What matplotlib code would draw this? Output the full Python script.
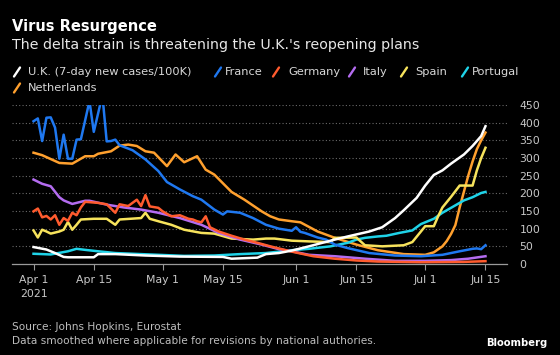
import numpy as np
import pandas as pd
import matplotlib
matplotlib.use("Agg")
import matplotlib.pyplot as plt
from matplotlib.lines import Line2D

# values: day offset from Apr 1 2021, cases per 100K
uk_days = [0, 3, 5, 7, 8, 14, 15, 19, 26, 34, 44, 46, 48, 52, 54, 57, 60, 64, 69, 73, 78, 81, 84, 86, 89, 91, 93, 95, 97, 100, 102, 104, 105]
uk_vals = [48, 41, 31, 20, 19, 19, 28, 28, 24, 21, 20, 15, 16, 18, 28, 31, 38, 50, 66, 78, 92, 104, 130, 152, 187, 222, 252, 265, 284, 310, 334, 362, 390]

fr_days = [0, 1, 2, 3, 4, 5, 6, 7, 8, 9, 10, 11, 13, 14, 16, 17, 18, 19, 20, 23, 26, 29, 31, 34, 37, 39, 42, 44, 45, 48, 51, 54, 57, 60, 61, 62, 63, 66, 68, 70, 73, 78, 84, 90, 95, 99, 102, 103, 104, 105]
fr_vals = [404, 412, 348, 414, 415, 386, 298, 366, 298, 298, 352, 353, 461, 374, 478, 347, 348, 352, 336, 322, 296, 263, 232, 211, 192, 182, 154, 140, 149, 145, 130, 111, 100, 94, 104, 91, 88, 75, 69, 55, 45, 31, 24, 22, 26, 36, 43, 44, 42, 53]

de_days = [0, 1, 2, 3, 4, 5, 6, 7, 8, 9, 10, 11, 12, 15, 17, 19, 20, 22, 24, 25, 26, 27, 29, 30, 32, 34, 36, 37, 38, 39, 40, 41, 43, 46, 49, 52, 55, 60, 65, 70, 75, 80, 90, 100, 105]
de_vals = [149, 157, 132, 136, 126, 138, 111, 130, 122, 145, 138, 160, 176, 173, 169, 145, 169, 164, 182, 164, 195, 163, 159, 149, 135, 138, 128, 126, 121, 118, 135, 104, 92, 80, 69, 60, 50, 35, 22, 15, 10, 7, 5, 6, 8]

it_days = [0, 2, 4, 6, 7, 9, 12, 13, 17, 21, 25, 29, 34, 39, 43, 48, 53, 57, 60, 64, 70, 77, 84, 91, 97, 101, 105]
it_vals = [239, 227, 220, 189, 180, 170, 179, 179, 168, 160, 154, 145, 130, 111, 88, 69, 55, 42, 36, 26, 22, 15, 9, 9, 11, 15, 22]

es_days = [0, 1, 2, 3, 4, 6, 7, 8, 9, 10, 11, 14, 17, 19, 20, 25, 26, 27, 29, 32, 35, 39, 42, 46, 51, 54, 56, 60, 64, 69, 70, 75, 76, 77, 81, 86, 88, 90, 91, 93, 94, 95, 97, 99, 102, 103, 104, 105]
es_vals = [95, 75, 97, 92, 86, 92, 97, 119, 97, 111, 126, 128, 128, 111, 126, 130, 145, 128, 121, 111, 97, 88, 86, 72, 69, 72, 72, 66, 64, 62, 74, 75, 64, 53, 50, 53, 62, 92, 107, 107, 135, 160, 190, 222, 222, 265, 300, 329]

pt_days = [0, 4, 8, 10, 12, 15, 19, 27, 35, 42, 48, 54, 60, 64, 69, 73, 75, 77, 80, 82, 85, 88, 90, 93, 95, 98, 100, 102, 104, 105]
pt_vals = [29, 27, 36, 43, 40, 36, 31, 27, 23, 24, 28, 31, 39, 43, 50, 60, 69, 74, 78, 80, 88, 95, 113, 128, 145, 166, 180, 189, 201, 204]

nl_days = [0, 2, 6, 9, 12, 14, 15, 18, 20, 22, 24, 26, 28, 31, 33, 35, 38, 40, 42, 46, 49, 53, 55, 57, 60, 62, 66, 70, 75, 80, 86, 91, 93, 95, 96, 97, 98, 99, 100, 101, 102, 103, 104, 105]
nl_vals = [315, 308, 286, 284, 305, 305, 312, 319, 335, 338, 334, 319, 315, 277, 310, 288, 305, 267, 253, 204, 182, 149, 135, 126, 121, 118, 92, 74, 55, 39, 28, 26, 33, 50, 65, 85, 110, 160, 205, 250, 290, 325, 350, 372]

names = ["U.K. (7-day new cases/100K)", "France", "Germany", "Italy", "Spain", "Portugal", "Netherlands"]
colors = ["#ffffff", "#1f78f0", "#ff5b2e", "#b46cf0", "#f7e35c", "#1fd3e8", "#ffa02e"]
series = [(uk_days, uk_vals), (fr_days, fr_vals), (de_days, de_vals), (it_days, it_vals),
          (es_days, es_vals), (pt_days, pt_vals), (nl_days, nl_vals)]

start = pd.Timestamp("2021-04-01")
tick_dates = ["2021-04-01", "2021-04-15", "2021-05-01", "2021-05-15",
              "2021-06-01", "2021-06-15", "2021-07-01", "2021-07-15"]
tick_labels = ["Apr 1\n2021", "Apr 15", "May 1", "May 15", "Jun 1", "Jun 15", "Jul 1", "Jul 15"]
y_ticks = [0, 50, 100, 150, 200, 250, 300, 350, 400, 450]

W, H = 560, 355
fig = plt.figure(figsize=(W / 100, H / 100), dpi=100, facecolor="black")
ax = fig.add_axes([12 / W, 1 - 264 / H, 495 / W, 159 / H], facecolor="black")

# reverse order so the U.K. line sits on top
for (d, v), c in reversed(list(zip(series, colors))):
    dates = start + pd.to_timedelta(d, unit="D")
    ax.plot(dates, v, color=c, lw=1.8, solid_joinstyle="round")

ax.set_xlim(start - pd.Timedelta(days=5), pd.Timestamp("2021-07-20"))
ax.set_ylim(0, 450)
ax.set_xticks(pd.to_datetime(tick_dates))
ax.set_xticklabels(tick_labels)
ax.set_yticks(y_ticks)
ax.yaxis.tick_right()
for s in ["top", "left", "right"]:
    ax.spines[s].set_visible(False)
ax.spines["bottom"].set_color("#9a9a9a")
ax.spines["bottom"].set_linewidth(0.9)
ax.tick_params(axis="x", colors="#9a9a9a", labelcolor="#c8c8c8", length=4, width=0.8, pad=4, labelsize=7.8)
ax.tick_params(axis="y", length=0, pad=9, labelcolor="#c8c8c8", labelsize=7.8)
for lab in ax.get_xticklabels():
    lab.set_linespacing(1.5)
ax.grid(axis="y", color="#6a6a6a", linestyle=(0, (1, 2)), lw=0.8)
ax.set_axisbelow(True)

# header
fig.text(12 / W, 1 - 31 / H, "Virus Resurgence", color="white", fontsize=10.5, fontweight="bold", va="baseline")
fig.text(12 / W, 1 - 49 / H, "The delta strain is threatening the U.K.'s reopening plans",
         color="#e8e8e8", fontsize=10.2, va="baseline")

# legend: coloured slash + label
leg_pos = [(14, 28, 72), (215, 225, 72), (273, 288, 72), (349, 363, 72),
           (401, 415, 72), (462, 472, 72), (14, 28, 88)]
for (sx, tx, cy), name, c in zip(leg_pos, names, colors):
    fig.add_artist(Line2D([sx / W, (sx + 6) / W], [1 - (cy + 4.5) / H, 1 - (cy - 4.5) / H],
                          color=c, lw=1.7, transform=fig.transFigure, solid_capstyle="round"))
    fig.text(tx / W, 1 - cy / H, name, color="#d8d8d8", fontsize=8.2, va="center")

# footer
fig.text(12 / W, 1 - 330 / H, "Source: Johns Hopkins, Eurostat", color="#bdbdbd", fontsize=7.6, va="baseline")
fig.text(12 / W, 1 - 344 / H, "Data smoothed where applicable for revisions by national authories.",
         color="#bdbdbd", fontsize=7.6, va="baseline")
fig.text(547 / W, 1 - 346 / H, "Bloomberg", color="white", fontsize=7.2, fontweight="bold",
         ha="right", va="baseline")

fig.savefig("out.png", dpi=100, facecolor="black")
